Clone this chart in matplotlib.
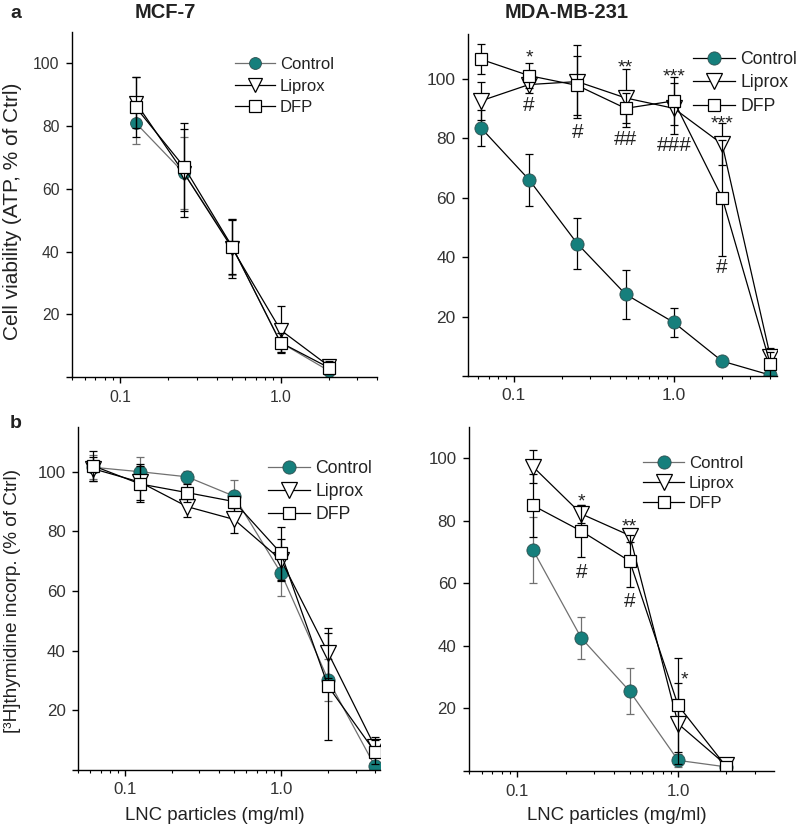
import matplotlib
matplotlib.use("Agg")
import matplotlib.pyplot as plt
from matplotlib.ticker import LogLocator, NullFormatter
import numpy as np

plt.rcParams["font.family"] = ["Liberation Sans", "DejaVu Sans"]
plt.rcParams["text.color"] = "#222222"

TEAL = "#167f7c"
GREY = "#707070"

series_names = ["Control", "Liprox", "DFP"]

# a, MCF-7: cell viability (ATP, % of Ctrl)
a1_conc = [0.125, 0.25, 0.5, 1.0, 2.0]
a1_ctrl = [81, 65, 41.5, 11, 2]
a1_ctrl_err = [6.7, 11.5, 9, 3, 1.5]
a1_lip = [87.5, 65, 41, 15, 3.5]
a1_lip_err = [8, 14, 9.5, 7.5, 2]
a1_dfp = [86, 67, 41.5, 11, 3]
a1_dfp_err = [9.6, 14, 8.5, 3, 2]

# a, MDA-MB-231
a2_conc = [0.0625, 0.125, 0.25, 0.5, 1.0, 2.0, 4.0]
a2_ctrl = [83.5, 66, 44.5, 27.5, 18, 5, 0.3]
a2_ctrl_err = [6, 8.7, 8.6, 8.3, 5, 1, 0.5]
a2_lip = [92.5, 98, 99, 93.5, 90, 78, 6.5]
a2_lip_err = [6.5, 3, 12.4, 9.7, 8.6, 7, 3]
a2_dfp = [106.5, 101, 97.7, 90, 92.5, 60, 4]
a2_dfp_err = [5, 4.3, 10, 5, 8, 19.5, 4]
a2_sig_x = [0.125, 0.125, 0.25, 0.5, 0.5, 1.0, 1.0, 2.0, 2.0]
a2_sig_y = [109, 91.7, 82.6, 105.8, 80.3, 102.8, 78.1, 87.1, 37.1]
a2_sig_txt = ["*", "#", "#", "**", "##", "***", "###", "***", "#"]

# b, MCF-7: [3H]thymidine incorporation (% of Ctrl)
b1_conc = [0.0625, 0.125, 0.25, 0.5, 1.0, 2.0, 4.0]
b1_ctrl = [101.5, 100, 98.3, 91.8, 66, 30.3, 1.2]
b1_ctrl_err = [4, 5, 2, 5.4, 7.5, 7, 1]
b1_lip = [101, 96.5, 88.3, 84, 70.4, 39.3, 7.7]
b1_lip_err = [4, 6, 3.5, 4.5, 7, 8.4, 3.4]
b1_dfp = [102, 95.9, 93, 90, 72.6, 28.1, 6]
b1_dfp_err = [5, 6, 3, 2, 9, 18, 4]

# b, MDA-MB-231
b2_conc = [0.125, 0.25, 0.5, 1.0, 2.0]
b2_ctrl = [70.7, 42.5, 25.5, 3.4, 1.3]
b2_ctrl_err = [10.6, 6.7, 7.4, 2, 0.5]
b2_lip = [97.3, 82.2, 75.3, 15.1, 1.8]
b2_lip_err = [5.2, 3, 2, 13, 1]
b2_dfp = [84.9, 76.7, 67.1, 21, 1.3]
b2_dfp_err = [10, 8.3, 8.3, 15, 1]
b2_sig_x = [0.25, 0.25, 0.5, 0.5, 1.1]
b2_sig_y = [88.1, 64.3, 80.1, 54.8, 31.1]
b2_sig_txt = ["*", "#", "**", "#", "*"]


def panel(ax, conc, ctrl, ctrl_err, lip, lip_err, dfp, dfp_err,
          ctrl_line, xlim, ylim, leg_xy, ms=1.0, tick_fs=12.5, leg_fs=12.7,
          leg_sp=0.4):
    styles = [
        (ctrl, ctrl_err, dict(marker="o", ms=9.5 * ms, mfc=TEAL, mec="#2f4f4f",
                              mew=0.6, color=ctrl_line), ctrl_line),
        (lip, lip_err, dict(marker="v", ms=11 * ms, mfc="white", mec="black",
                            mew=0.9, color="black"), "black"),
        (dfp, dfp_err, dict(marker="s", ms=8.8 * ms, mfc="white", mec="black",
                            mew=0.9, color="black"), "black"),
    ]
    for name, (y, err, kw, ecol) in zip(series_names, styles):
        ax.errorbar(conc, y, yerr=err, fmt="none", ecolor=ecol,
                    elinewidth=0.9, capsize=2.6, capthick=0.9)
        ax.plot(conc, y, lw=0.9, label=name, **kw)

    ax.set_xscale("log")
    ax.set_xlim(*xlim)
    ax.set_ylim(*ylim)
    ax.set_xticks([0.1, 1.0], ["0.1", "1.0"])
    ax.xaxis.set_minor_locator(LogLocator(base=10, subs=np.arange(2, 10)))
    ax.xaxis.set_minor_formatter(NullFormatter())
    ax.set_yticks([0, 20, 40, 60, 80, 100], ["", "20", "40", "60", "80", "100"])
    for s in ["top", "right"]:
        ax.spines[s].set_visible(False)
    for s in ["left", "bottom"]:
        ax.spines[s].set_linewidth(1.0)
    ax.tick_params(which="major", direction="out", length=4, width=1,
                   labelsize=tick_fs, labelcolor="#333333", pad=5)
    ax.tick_params(which="minor", direction="out", length=2.5, width=0.8)
    ax.legend(loc="upper left", bbox_to_anchor=leg_xy, frameon=False,
              fontsize=leg_fs, borderpad=0, borderaxespad=0, handlelength=2.4,
              handletextpad=0.3, labelspacing=leg_sp)


W, H = 797, 827
fig = plt.figure(figsize=(W / 100, H / 100), dpi=100)


def px_axes(x0, y0, x1, y1):
    return fig.add_axes([x0 / W, 1 - y1 / H, (x1 - x0) / W, (y1 - y0) / H])


ax1 = px_axes(72, 32, 377, 377)
panel(ax1, a1_conc, a1_ctrl, a1_ctrl_err, a1_lip, a1_lip_err, a1_dfp, a1_dfp_err,
      GREY, (0.05, 4.0), (0, 110), (0.534, 0.927), ms=0.9, tick_fs=11.3,
      leg_fs=12, leg_sp=0.38)

ax2 = px_axes(468, 34, 777, 376)
panel(ax2, a2_conc, a2_ctrl, a2_ctrl_err, a2_lip, a2_lip_err, a2_dfp, a2_dfp_err,
      "black", (0.052, 4.4), (0, 115), (0.728, 0.951), leg_sp=0.38)

ax3 = px_axes(78, 427, 380, 770)
panel(ax3, b1_conc, b1_ctrl, b1_ctrl_err, b1_lip, b1_lip_err, b1_dfp, b1_dfp_err,
      GREY, (0.05, 4.3), (0, 115), (0.629, 0.904), tick_fs=12.2, leg_sp=0.35)

ax4 = px_axes(469, 427, 774, 771)
panel(ax4, b2_conc, b2_ctrl, b2_ctrl_err, b2_lip, b2_lip_err, b2_dfp, b2_dfp_err,
      GREY, (0.05, 3.95), (0, 110), (0.572, 0.917), tick_fs=12.2, leg_fs=12.1,
      leg_sp=0.3)

# significance marks, centred on the measured glyph centre
for ax, xs, ys, txts in [(ax2, a2_sig_x, a2_sig_y, a2_sig_txt),
                         (ax4, b2_sig_x, b2_sig_y, b2_sig_txt)]:
    for x, y, t in zip(xs, ys, txts):
        if t.startswith("*"):
            ax.annotate(t, (x, y), xytext=(0, -8), textcoords="offset points",
                        ha="center", va="baseline", fontsize=14)
        else:
            ax.annotate(t, (x, y), xytext=(0, -5.5), textcoords="offset points",
                        ha="center", va="baseline", fontsize=15)

# panel letters, titles, axis labels
fig.text(10 / W, 1 - 18 / H, "a", fontsize=14, fontweight="bold", va="baseline")
fig.text(10 / W, 1 - 428 / H, "b", fontsize=14, fontweight="bold", va="baseline")
fig.text(165 / W, 1 - 18.5 / H, "MCF-7", fontsize=14.5, fontweight="bold",
         ha="center", va="baseline")
fig.text(567 / W, 1 - 18.5 / H, "MDA-MB-231", fontsize=14.5, fontweight="bold",
         ha="center", va="baseline")
fig.text(13 / W, 1 - 211 / H, "Cell viability (ATP, % of Ctrl)", fontsize=15,
         rotation=90, ha="center", va="center")
fig.text(13 / W, 1 - 601 / H, "[³H]thymidine incorp. (% of Ctrl)", fontsize=13.7,
         rotation=90, ha="center", va="center")
fig.text(215 / W, 1 - 815 / H, "LNC particles (mg/ml)", fontsize=13.4,
         ha="center", va="center")
fig.text(617 / W, 1 - 815 / H, "LNC particles (mg/ml)", fontsize=13.4,
         ha="center", va="center")

fig.savefig("out.png", dpi=100)
